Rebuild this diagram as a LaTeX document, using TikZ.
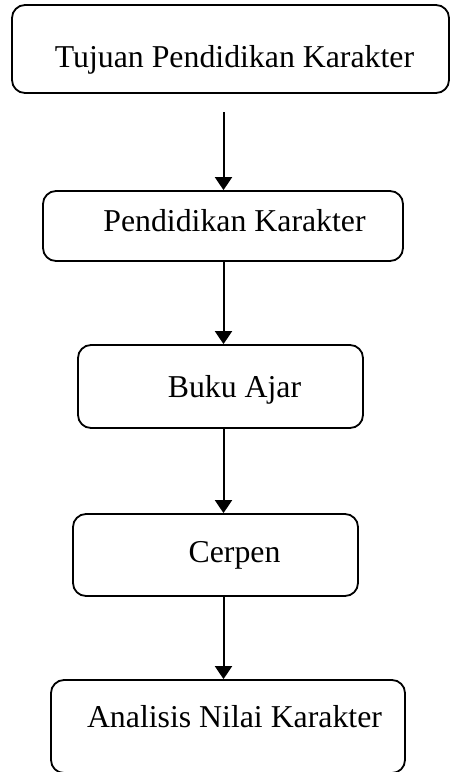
\documentclass[tikz,border=0pt]{standalone}
\usepackage{fontspec}
\setmainfont{Liberation Serif}
\usetikzlibrary{arrows.meta}
\begin{document}
\begin{tikzpicture}[x=1pt,y=-1pt,
  box/.style={draw=black, line width=1.8pt, rounded corners=13pt, inner sep=0pt, minimum width=#1},
  txt/.style={anchor=base, inner sep=0pt, font=\fontsize{31.8}{38}\selectfont},
  arr/.style={draw=black, line width=2pt, -{Triangle[width=17pt,length=13pt]}}]
\useasboundingbox (0,0) rectangle (451,772);
\node[box=437pt, minimum height=88pt] (b1) at (230.5,49) {};
\node[box=360pt, minimum height=70pt] (b2) at (223,226) {};
\node[box=285pt, minimum height=83pt] (b3) at (220.5,386.5) {};
\node[box=285pt, minimum height=82pt] (b4) at (215.5,555) {};
\node[box=354pt, minimum height=93pt] (b5) at (228,726.5) {};
\node[txt] (t1) at (234.5,67) {Tujuan Pendidikan Karakter};
\node[txt] (t2) at (234.5,231) {Pendidikan Karakter};
\node[txt] (t3) at (234.5,397) {Buku Ajar};
\node[txt] (t4) at (234.5,562) {Cerpen};
\node[txt] (t5) at (234.5,727) {Analisis Nilai Karakter};
\coordinate (ax) at (223.5,0);
\coordinate (s1) at (223.5,112);
\draw[arr] (s1) -- (b2.north -| ax);
\draw[arr] (b2.south -| ax) -- (b3.north -| ax);
\draw[arr] (b3.south -| ax) -- (b4.north -| ax);
\draw[arr] (b4.south -| ax) -- (b5.north -| ax);
\end{tikzpicture}
\end{document}
